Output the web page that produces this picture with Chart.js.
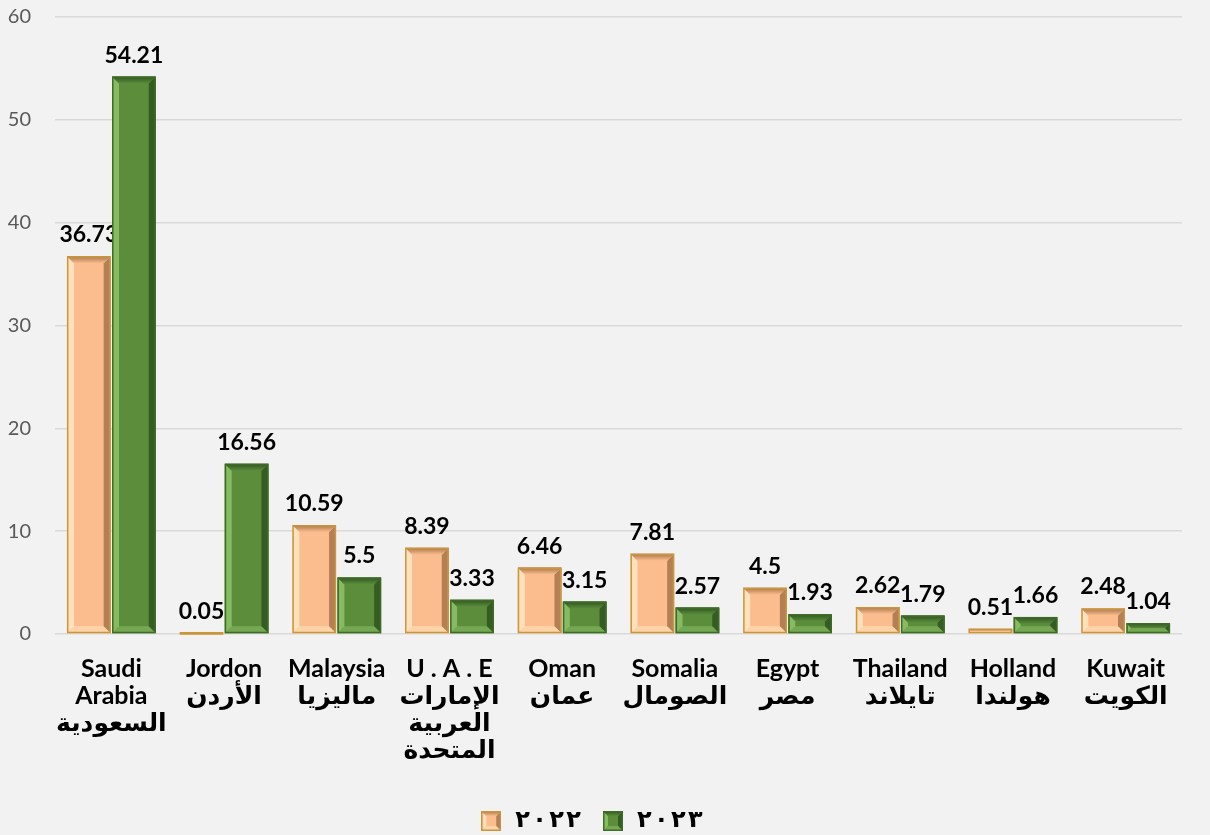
<!DOCTYPE html>
<html>
<head>
<meta charset="utf-8">
<script src="https://cdn.jsdelivr.net/npm/chart.js@4.4.1/dist/chart.umd.min.js"></script>
<style>
  html, body { margin: 0; padding: 0; background: #f2f2f2; }
  #wrap { width: 1210px; height: 835px; }
</style>
</head>
<body>
<div id="wrap"><canvas id="chart" width="1210" height="835"></canvas></div>
<script>
// chart values
const categories = [
  ["Saudi", "Arabia", "السعودية"],
  ["Jordon", "الأردن"],
  ["Malaysia", "ماليزيا"],
  ["U . A . E", "الإمارات", "العربية", "المتحدة"],
  ["Oman", "عمان"],
  ["Somalia", "الصومال"],
  ["Egypt", "مصر"],
  ["Thailand", "تايلاند"],
  ["Holland", "هولندا"],
  ["Kuwait", "الكويت"]
];
const seriesNames = ["\u202D٢\u200A٠\u200A٢\u200A٢\u202C", "\u202D٢\u200A٠\u200A٢\u200A٣\u202C"];
const values2022 = [36.73, 0.05, 10.59, 8.39, 6.46, 7.81, 4.5, 2.62, 0.51, 2.48];
const values2023 = [54.21, 16.56, 5.5, 3.33, 3.15, 2.57, 1.93, 1.79, 1.66, 1.04];
const yMin = 0, yMax = 60, yStep = 10;

const palettes = [
  { main: "#fbbd8d", light: "#ffe2bd", dark: "#a8744c", edge: "#c9973a" },
  { main: "#5b8d3b", light: "#86bb62", dark: "#2f5420", edge: "#3f6b28" }
];

function bevel(ctx, left, top, right, bottom, pal) {
  const w = right - left, h = bottom - top;
  if (w <= 0 || h <= 0) return;
  const b = Math.min(7, w / 4, h / 2);
  ctx.save();
  // left highlight
  ctx.beginPath();
  ctx.moveTo(left, top); ctx.lineTo(left + b, top + b);
  ctx.lineTo(left + b, bottom - b); ctx.lineTo(left, bottom); ctx.closePath();
  ctx.fillStyle = pal.light; ctx.fill();
  // right shade
  ctx.beginPath();
  ctx.moveTo(right, top); ctx.lineTo(right - b, top + b);
  ctx.lineTo(right - b, bottom - b); ctx.lineTo(right, bottom); ctx.closePath();
  ctx.fillStyle = pal.dark; ctx.globalAlpha = 0.85; ctx.fill();
  // top bevel
  ctx.globalAlpha = 1;
  const g = ctx.createLinearGradient(0, top, 0, top + b);
  g.addColorStop(0, pal.dark); g.addColorStop(1, pal.main);
  ctx.beginPath();
  ctx.moveTo(left, top); ctx.lineTo(right, top);
  ctx.lineTo(right - b, top + b); ctx.lineTo(left + b, top + b); ctx.closePath();
  ctx.fillStyle = g; ctx.fill();
  // bottom bevel
  ctx.beginPath();
  ctx.moveTo(left, bottom); ctx.lineTo(right, bottom);
  ctx.lineTo(right - b, bottom - b); ctx.lineTo(left + b, bottom - b); ctx.closePath();
  ctx.fillStyle = pal.light; ctx.globalAlpha = 0.6; ctx.fill();
  // outline
  ctx.globalAlpha = 1;
  ctx.strokeStyle = pal.edge; ctx.lineWidth = 1.5;
  ctx.strokeRect(left + 0.75, top + 0.75, w - 1.5, h - 1.5);
  ctx.restore();
}

function legendSwatch(pal) {
  const c = document.createElement("canvas");
  c.width = 20; c.height = 20;
  const cx = c.getContext("2d");
  cx.fillStyle = pal.main; cx.fillRect(0, 0, 20, 20);
  bevel(cx, 0, 0, 20, 20, pal);
  return c;
}
const swatches = palettes.map(legendSwatch);

const bevelPlugin = {
  id: "bevelBars",
  afterDatasetsDraw(chart) {
    const ctx = chart.ctx;
    chart.data.datasets.forEach((ds, i) => {
      const meta = chart.getDatasetMeta(i);
      meta.data.forEach((bar, j) => {
        const p = bar.getProps(["x", "y", "base", "width"], true);
        const top = Math.min(p.y, p.base), bottom = Math.max(p.y, p.base);
        bevel(ctx, p.x - p.width / 2, top, p.x + p.width / 2, bottom, palettes[i]);
        // value label
        ctx.save();
        ctx.font = "bold 23px Lato, 'Open Sans', sans-serif";
        ctx.fillStyle = "#000";
        ctx.textAlign = "center";
        ctx.textBaseline = "alphabetic";
        ctx.fillText(String(ds.data[j]), p.x, top - 14);
        ctx.restore();
      });
    });
  }
};

new Chart(document.getElementById("chart"), {
  type: "bar",
  data: {
    labels: categories,
    datasets: [
      { label: seriesNames[0], data: values2022, backgroundColor: palettes[0].main, borderWidth: 0 },
      { label: seriesNames[1], data: values2023, backgroundColor: palettes[1].main, borderWidth: 0 }
    ]
  },
  options: {
    responsive: false,
    animation: false,
    categoryPercentage: 0.8,
    barPercentage: 0.97,
    layout: { padding: { top: 0, left: 0, right: 28, bottom: -8 } },
    plugins: {
      tooltip: { enabled: false },
      legend: {
        position: "bottom",
        labels: {
          usePointStyle: true,
          padding: 20,
          color: "#000",
          font: { size: 24, weight: "bold", family: "'DejaVu Sans', sans-serif" },
          generateLabels(chart) {
            const items = Chart.defaults.plugins.legend.labels.generateLabels(chart);
            items.forEach((it, i) => { it.pointStyle = swatches[i]; });
            return items;
          }
        }
      }
    },
    scales: {
      x: {
        grid: { display: false },
        border: { display: false },
        afterFit(scale) { scale.height = 155; },
        ticks: {
          color: "#000",
          padding: 13,
          maxRotation: 0,
          autoSkip: false,
          font: { size: 25, weight: "bold", family: "Lato, 'DejaVu Sans', sans-serif", lineHeight: 1.08 }
        }
      },
      y: {
        min: yMin,
        max: yMax,
        border: { display: false },
        afterFit(scale) { scale.width = 55; scale.paddingTop = 17; scale.paddingBottom = 5; },
        grid: { color: "#d9d9d9", lineWidth: 1.5, drawTicks: false },
        ticks: {
          stepSize: yStep,
          color: "#595959",
          padding: 24,
          font: { size: 20, family: "Lato, sans-serif" }
        }
      }
    }
  },
  plugins: [bevelPlugin]
});
</script>
</body>
</html>
